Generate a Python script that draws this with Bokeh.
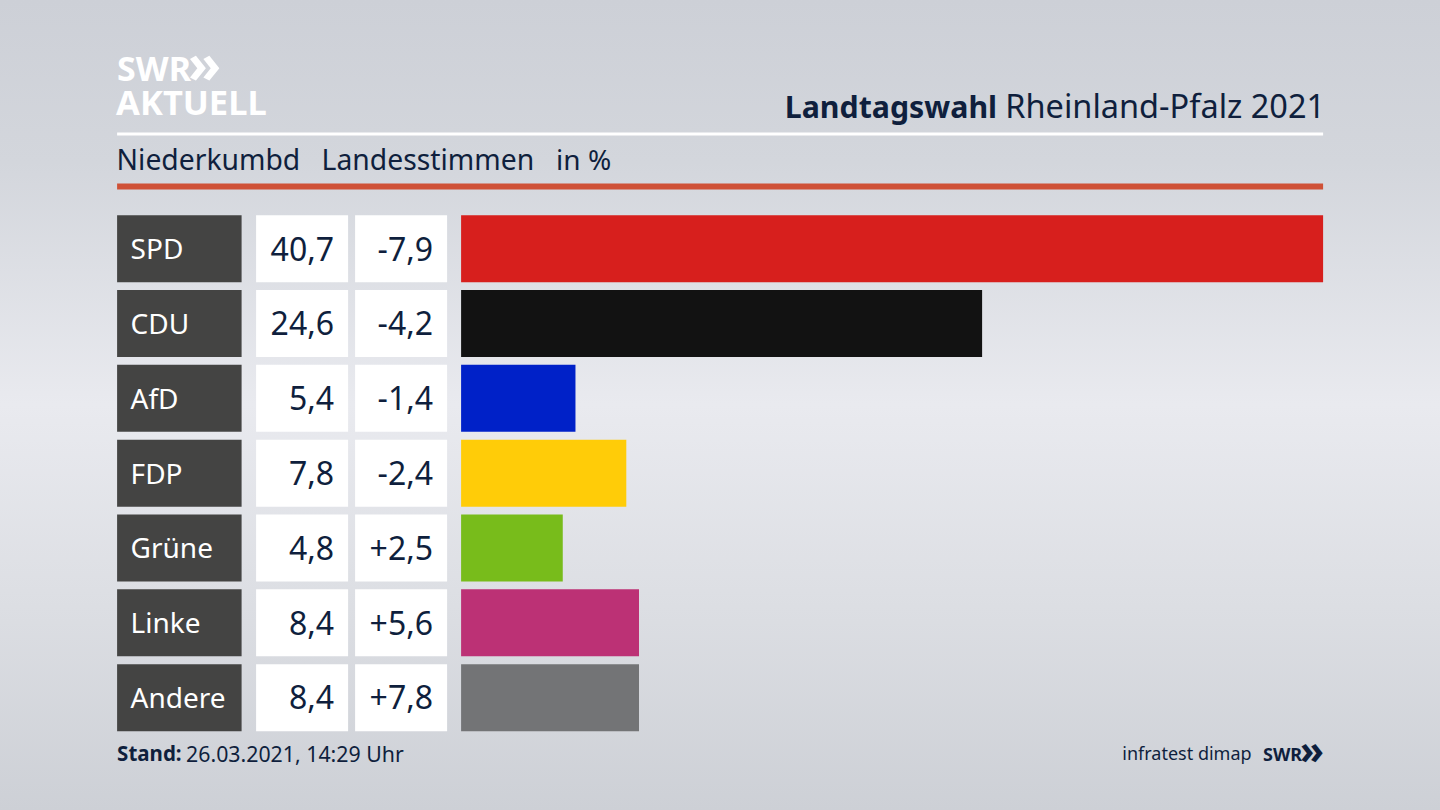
from bokeh.plotting import figure
from bokeh.models import Range1d, ColumnDataSource, Label
from bokeh.core.properties import value
from bokeh.embed import file_html
from bokeh.resources import INLINE

parties = ["SPD", "CDU", "AfD", "FDP", "Grüne", "Linke", "Andere"]
shares = [40.7, 24.6, 5.4, 7.8, 4.8, 8.4, 8.4]
share_labels = ["40,7", "24,6", "5,4", "7,8", "4,8", "8,4", "8,4"]
change_labels = ["-7,9", "-4,2", "-1,4", "-2,4", "+2,5", "+5,6", "+7,8"]
colors = ["#d71f1d", "#121212", "#0021c8", "#ffcc08", "#78bc1b", "#bc3175", "#737476"]

W, H = 1440, 810
PX_PER_PCT = 862 / 40.7
X0 = 460.6
PITCH = 74.83
Y0 = 248.2
ROW_H = 67 / PITCH
NAVY = "#0f1f3d"
FONT = "Noto Sans"

p = figure(width=W, height=H, output_backend="svg", toolbar_location=None,
           x_range=Range1d(-X0 / PX_PER_PCT, (W - X0) / PX_PER_PCT),
           y_range=Range1d((H - Y0) / PITCH, -Y0 / PITCH),
           min_border=0, outline_line_color=None,
           background_fill_color=None, border_fill_color=None)
p.axis.visible = False
p.grid.visible = False
p.styles = {"position": "fixed", "left": "0", "top": "0",
            "background": "linear-gradient(180deg,#cdd0d7 0%,#d3d6dc 20%,#e9eaef 50%,#dcdee3 75%,#cdd0d6 100%)"}
p.extra_x_ranges = {"px": Range1d(0.4, W + 0.4)}
p.extra_y_ranges = {"px": Range1d(H, 0)}

rows = list(range(len(parties)))
src = ColumnDataSource(dict(row=rows, party=parties, share=shares, share_label=share_labels,
                            change_label=change_labels, color=colors,
                            zero=[0] * len(rows)))

# bars
p.hbar(y="row", left="zero", right="share", height=ROW_H, fill_color="color", line_color=None, source=src)

# table cells, in pixel coordinates on x
for l, r, c in [(117, 241.5, "#444443"), (256, 348, "#ffffff"), (355, 447, "#ffffff")]:
    p.hbar(y="row", left=l, right=r, height=ROW_H, fill_color=c, line_color=None, source=src, x_range_name="px")

p.text(x=130.5, y="row", text="party", source=src, x_range_name="px", text_color="#ffffff", y_offset=-0.6,
       text_font=value(FONT), text_font_size="28px", text_baseline="middle", text_align="left")
p.text(x=334, y="row", text="share_label", source=src, x_range_name="px", text_color=NAVY, y_offset=-0.2,
       text_font=value(FONT), text_font_size="32px", text_baseline="middle", text_align="right")
p.text(x=433, y="row", text="change_label", source=src, x_range_name="px", text_color=NAVY, y_offset=-0.2,
       text_font=value(FONT), text_font_size="32px", text_baseline="middle", text_align="right")

# header rules
p.quad(left=117, right=1323, top=132, bottom=135, fill_color="#ffffff", line_color=None, x_range_name="px", y_range_name="px")
p.quad(left=117, right=1323, top=183, bottom=189, fill_color="#cf5137", line_color=None, x_range_name="px", y_range_name="px")


def label(x, y, text, size, color=NAVY, style="normal", align="left", font=FONT):
    # Bokeh lowers alphabetic labels by a font-proportional amount; compensate
    y = y - 0.44 * size
    p.add_layout(Label(x=x, y=y, text=text, x_range_name="px", y_range_name="px",
                       text_color=color, text_font=font, text_font_size=f"{size}px",
                       text_font_style=style, text_align=align, text_baseline="alphabetic"))


label(117, 82, "SWR", 34, "#ffffff", "bold")
label(188, 85, "»", 54, "#ffffff", "bold")
label(116, 116.5, "AKTUELL", 34.5, "#ffffff", "bold")
label(1325, 119, "Rheinland-Pfalz 2021", 32.5, align="right")
label(997, 119, "Landtagswahl", 30.3, style="bold", align="right")
label(116.5, 171, "Niederkumbd", 28.3)
label(321.5, 171, "Landesstimmen", 28.3)
label(556, 171, "in %", 28)
label(117, 762, "Stand:", 20.5, style="bold")
label(186, 762, "26.03.2021, 14:29 Uhr", 21.3)
label(1251.5, 760, "infratest dimap", 18, align="right")
label(1302, 761, "SWR", 18, style="bold", align="right")
label(1300, 765, "»", 39, style="bold")

open("out.html", "w").write(file_html(p, INLINE))
